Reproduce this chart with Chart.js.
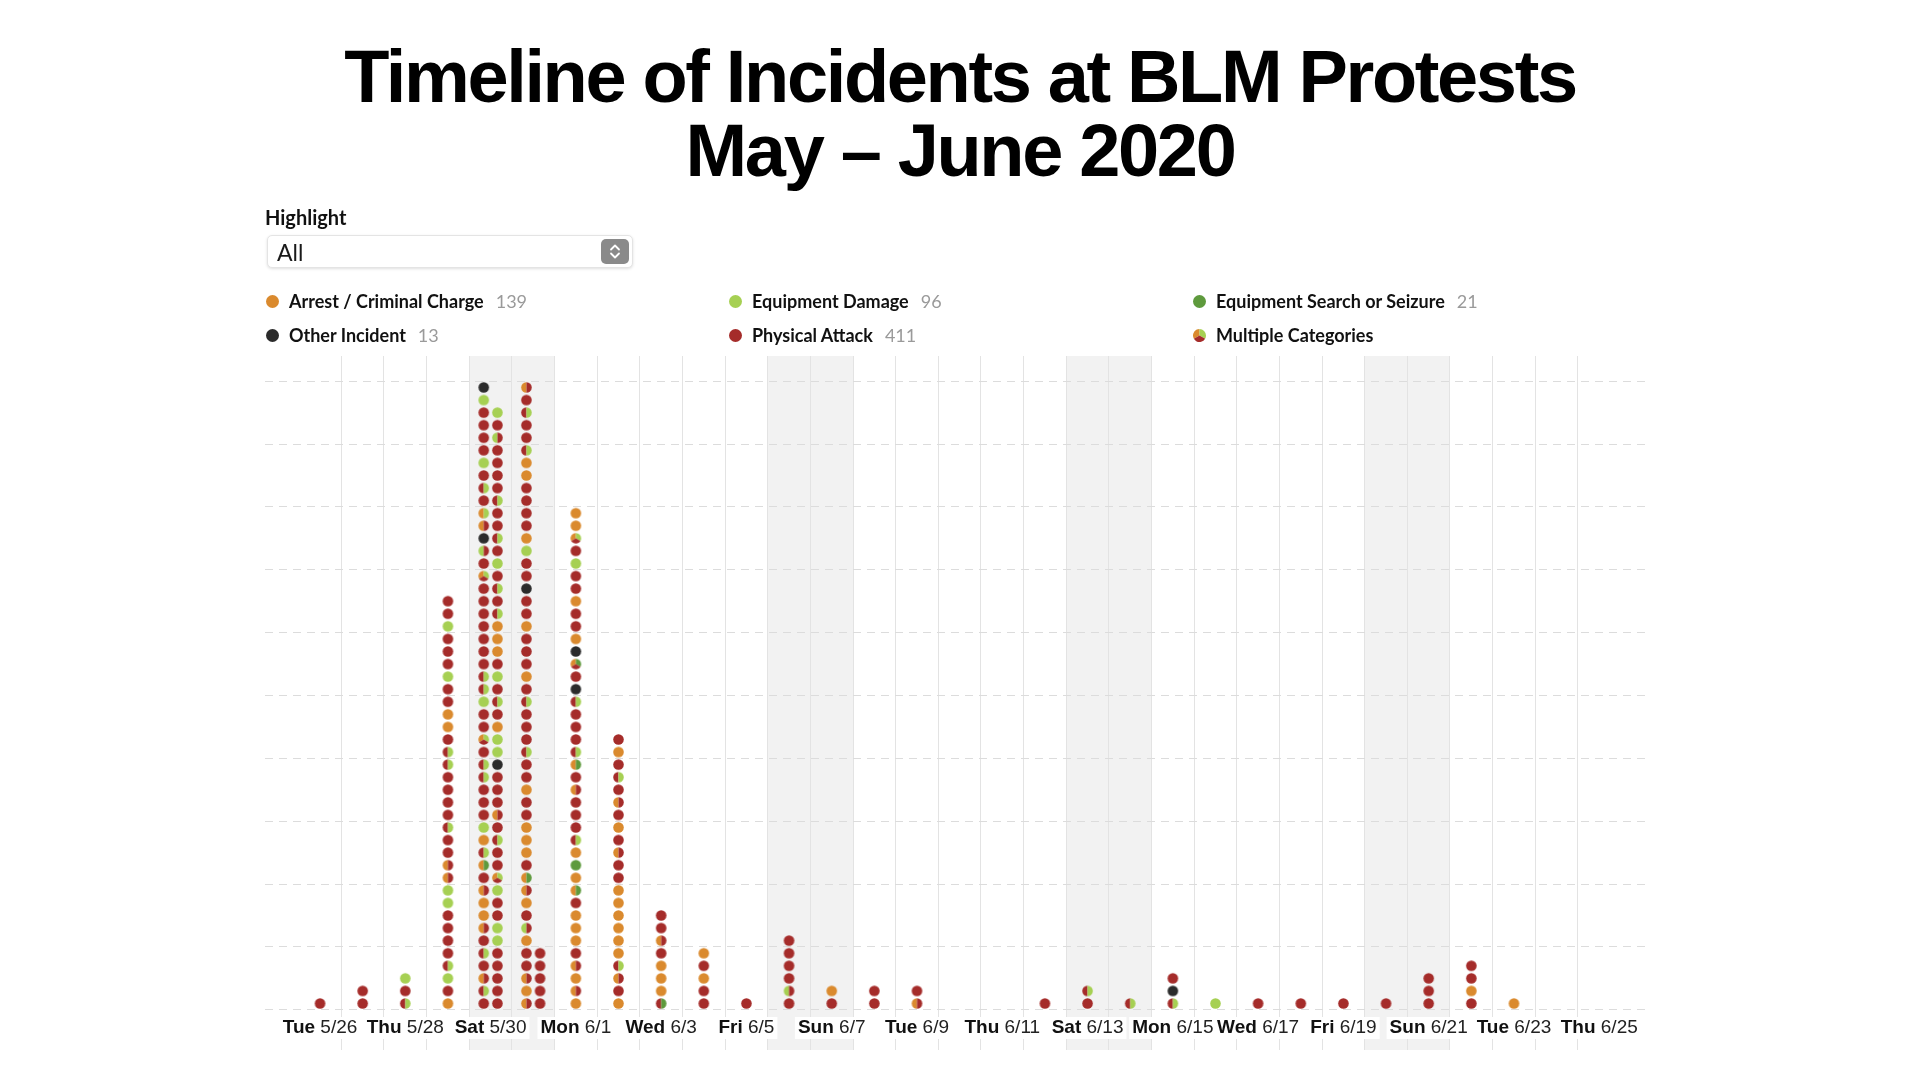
<!DOCTYPE html>
<html>
<head>
<meta charset="utf-8">
<title>Timeline of Incidents at BLM Protests</title>
<script src="https://cdn.jsdelivr.net/npm/chart.js@4.4.1/dist/chart.umd.min.js"></script>
<style>
    html, body { margin: 0; padding: 0; background: #fff; }
    #page { position: relative; width: 1920px; height: 1080px; overflow: hidden; }
    #chartBox { position: absolute; left: 0; top: 0; width: 1920px; height: 1080px; }
    h1 {
        position: absolute; top: 40px; left: 0; width: 1920px; margin: 0;
        text-align: center; color: #000;
        font: bold 74px/74px "Liberation Sans", Arial, sans-serif;
        letter-spacing: -2.35px;
    }
    .hl-label {
        position: absolute; left: 265px; top: 205px;
        font: 700 20px "Lato", sans-serif; color: #111;
    }
    .select {
        position: absolute; left: 267px; top: 235px; width: 366px; height: 33px;
        border: 1px solid #e4e4e4; border-radius: 5px; box-sizing: border-box;
        box-shadow: 0 1px 3px rgba(0, 0, 0, 0.13); background: #fff;
    }
    .select .value {
        position: absolute; left: 9px; top: 2px;
        font: 400 23px "Lato", sans-serif; color: #1a1a1a;
    }
    .select .spin {
        position: absolute; right: 3px; top: 3px; width: 28px; height: 25px;
        border-radius: 5px; background: #8a8a8a;
    }
    .legend-item {
        position: absolute; height: 20px; display: flex; align-items: center;
        font: 700 18px "Lato", sans-serif; color: #111; white-space: nowrap;
    }
    .legend-item canvas { margin-right: 9px; }
    .legend-item .count { margin-left: 12px; font-weight: 400; color: #9a9a9a; }
</style>
</head>
<body>
<div id="page">
    <div id="chartBox"><canvas id="chart1"></canvas></div>
    <h1>Timeline of Incidents at BLM Protests<br>May – June 2020</h1>
    <div class="hl-label">Highlight</div>
    <div class="select">
        <span class="value">All</span>
        <span class="spin">
            <svg width="28" height="25" viewBox="0 0 28 25">
                <path d="M10 10.5 L14 6.5 L18 10.5" fill="none" stroke="#fff" stroke-width="1.8" stroke-linecap="round" stroke-linejoin="round"/>
                <path d="M10 14.5 L14 18.5 L18 14.5" fill="none" stroke="#fff" stroke-width="1.8" stroke-linecap="round" stroke-linejoin="round"/>
            </svg>
        </span>
    </div>
    <div id="legend"></div>
</div>
<script>
// Dias do eixo (uma coluna por dia)
const dayLabels = [
    'Tue 5/26', 'Wed 5/27', 'Thu 5/28', 'Fri 5/29', 'Sat 5/30', 'Sun 5/31', 'Mon 6/1',
    'Tue 6/2', 'Wed 6/3', 'Thu 6/4', 'Fri 6/5', 'Sat 6/6', 'Sun 6/7', 'Mon 6/8',
    'Tue 6/9', 'Wed 6/10', 'Thu 6/11', 'Fri 6/12', 'Sat 6/13', 'Sun 6/14', 'Mon 6/15',
    'Tue 6/16', 'Wed 6/17', 'Thu 6/18', 'Fri 6/19', 'Sat 6/20', 'Sun 6/21', 'Mon 6/22',
    'Tue 6/23', 'Wed 6/24', 'Thu 6/25'
];

// Incidents per day, bottom to top. A = arrest, E = equipment damage,
// S = search / seizure, O = other, R = physical attack; "RE" = several categories
const dayIncidents = [
    'R',
    'R R',
    'RE R E',
    'A R E RE R R R R E E AR AR R R RE R R R R RE RE R A A R R E R R R E R R',
    'R RE AR R RE R AR A A AR R AS RE A E R R R RE RE R AER R R E RE RE R R R R R R R AER R ER O AR AE R RE R E R R R R E O ' +
    'R R R R R E E R R E AER R R RE R AR R R R O E E A R RE R E R A A A RE R RE R E R RE R R RE R R R R ER R E',
    'AR A AR R R A ER R A AR AS R A A A R R A R R RE R R R RE R A R R R A R R O R R E A R R R R A A RE R R RE R AR ' +
    'R R R R R',
    'A AR A AR R A A A R AS A S A RE R R R AR R AS RE R R R RE O R ASR O A R R A R R E R AER A A',
    'A R AR RE A A A A A A R R AR R A R AR R RE R A R',
    'RS A A A R AR R R',
    'R R A R A',
    'R',
    'R ER R R R R',
    'R A',
    'R R',
    'AR R',
    '',
    '',
    'R',
    'R RE',
    'RE',
    'RE O R',
    'E',
    'R',
    'R',
    'R',
    'R',
    'R R R',
    'R A R R',
    'A',
    '',
    ''
];

const categoryCodes = ['A', 'E', 'S', 'O', 'R'];
const categoryNames = ['Arrest / Criminal Charge', 'Equipment Damage', 'Equipment Search or Seizure', 'Other Incident', 'Physical Attack'];
const categoryCounts = [139, 96, 21, 13, 411];
const yGridValues = [0, 5, 10, 15, 20, 25, 30, 35, 40, 45, 50];

const categoryColors = { A: '#da8a2e', E: '#a6d053', S: '#5e9a3d', O: '#2b2b2b', R: '#a52c2a' };
const colMax = 50;      // dots per column before a second column starts
const colShift = 0.16;  // offset of the two columns, in days

// pequenos círculos (com fatias para várias categorias)
function makeDot(code, r) {
    const c = document.createElement('canvas');
    const size = Math.ceil(r * 2) + 2;
    c.width = size;
    c.height = size;
    const g = c.getContext('2d');
    const parts = code.split('');
    const step = Math.PI * 2 / parts.length;
    let start = Math.PI / 2 + (parts.length - 2) * Math.PI / 3;
    parts.forEach(p => {
        g.beginPath();
        if (parts.length === 1) {
            g.arc(size / 2, size / 2, r, 0, Math.PI * 2);
        } else {
            g.moveTo(size / 2, size / 2);
            g.arc(size / 2, size / 2, r, start, start + step);
            g.closePath();
        }
        g.fillStyle = categoryColors[p];
        g.fill();
        start += step;
    });
    return c;
}

const dotCache = {};
function dotFor(code) {
    if (!dotCache[code]) dotCache[code] = makeDot(code, 5.3);
    return dotCache[code];
}

// Legenda
const legend = document.getElementById('legend');
const legendCols = [265, 728, 1192];
const legendRows = [291, 325];
const legendEntries = categoryNames.map((name, i) => ({ name: name, code: categoryCodes[i], count: categoryCounts[i] }));
const legendOrder = [legendEntries[0], legendEntries[1], legendEntries[2], legendEntries[3], legendEntries[4],
    { name: 'Multiple Categories', code: 'AER', count: null }];
legendOrder.forEach((item, i) => {
    const el = document.createElement('div');
    el.className = 'legend-item';
    el.style.left = legendCols[i % 3] + 'px';
    el.style.top = legendRows[Math.floor(i / 3)] + 'px';
    el.appendChild(makeDot(item.code, 6.5));
    const t = document.createElement('span');
    t.textContent = item.name;
    el.appendChild(t);
    if (item.count !== null) {
        const n = document.createElement('span');
        n.className = 'count';
        n.textContent = item.count;
        el.appendChild(n);
    }
    legend.appendChild(el);
});

// Pontos do gráfico
const points = [];
dayIncidents.forEach((s, d) => {
    const codes = s.split(' ').filter(Boolean);
    const cols = Math.ceil(codes.length / colMax);
    codes.forEach((code, i) => {
        const col = Math.floor(i / colMax);
        const x = cols > 1 ? d + (col === 0 ? -colShift : colShift) : d;
        points.push({ x: x, y: (i % colMax) + 0.5, code: code });
    });
});

const dayBoundaries = [];
for (let d = 0; d < dayLabels.length - 1; d++) dayBoundaries.push(d + 0.5);

const weekendBands = {
    id: 'weekendBands',
    beforeDraw(chart) {
        const { ctx, chartArea, scales: { x } } = chart;
        ctx.save();
        ctx.fillStyle = '#f2f2f2';
        dayLabels.forEach((lab, d) => {
            if (lab.startsWith('Sat') || lab.startsWith('Sun')) {
                const x0 = x.getPixelForValue(d - 0.5);
                const x1 = x.getPixelForValue(d + 0.5);
                ctx.fillRect(x0, chartArea.top, x1 - x0, chartArea.bottom - chartArea.top);
            }
        });
        ctx.restore();
    }
};

const dayTickLabels = {
    id: 'dayTickLabels',
    afterDraw(chart) {
        const { ctx, chartArea, scales: { x } } = chart;
        const y = chartArea.bottom - 22;
        const bold = 'bold 19px "Liberation Sans", Arial, sans-serif';
        const regular = '19px "Liberation Sans", Arial, sans-serif';
        ctx.save();
        ctx.textBaseline = 'middle';
        ctx.textAlign = 'left';
        dayLabels.forEach((lab, d) => {
            if (d % 2) return;
            const [dow, date] = lab.split(' ');
            ctx.font = bold;
            const w1 = ctx.measureText(dow + ' ').width;
            ctx.font = regular;
            const w2 = ctx.measureText(date).width;
            const left = x.getPixelForValue(d) - (w1 + w2) / 2;
            ctx.fillStyle = '#fff';
            ctx.fillRect(left - 3, y - 11, w1 + w2 + 6, 22);
            ctx.fillStyle = '#111';
            ctx.font = bold;
            ctx.fillText(dow, left, y);
            ctx.font = regular;
            ctx.fillStyle = '#222';
            ctx.fillText(date, left + w1, y);
        });
        ctx.restore();
    }
};

const ctx1 = document.getElementById('chart1').getContext('2d');
new Chart(ctx1, {
    type: 'scatter',
    data: {
        datasets: [{
            label: 'Incidents',
            data: points,
            pointStyle: c => dotFor(c.raw.code),
            pointRadius: 5,
            pointHoverRadius: 5
        }]
    },
    options: {
        responsive: true,
        maintainAspectRatio: false,
        animation: false,
        events: [],
        layout: { padding: { left: 265, right: 273, top: 356, bottom: 30 } },
        plugins: {
            legend: { display: false },
            tooltip: { enabled: false }
        },
        scales: {
            x: {
                type: 'linear',
                min: -1.29,
                max: 31.12,
                afterBuildTicks: s => { s.ticks = dayBoundaries.map(v => ({ value: v })); },
                ticks: { display: false },
                grid: { color: '#e3e3e3', lineWidth: 1, drawTicks: false },
                border: { display: false }
            },
            y: {
                type: 'linear',
                min: -3.2,
                max: 52,
                afterBuildTicks: s => { s.ticks = yGridValues.map(v => ({ value: v })); },
                ticks: { display: false },
                grid: { color: '#dcdcdc', lineWidth: 1, drawTicks: false },
                border: { display: false, dash: [8, 6] }
            }
        }
    },
    plugins: [weekendBands, dayTickLabels]
});
</script>
</body>
</html>
